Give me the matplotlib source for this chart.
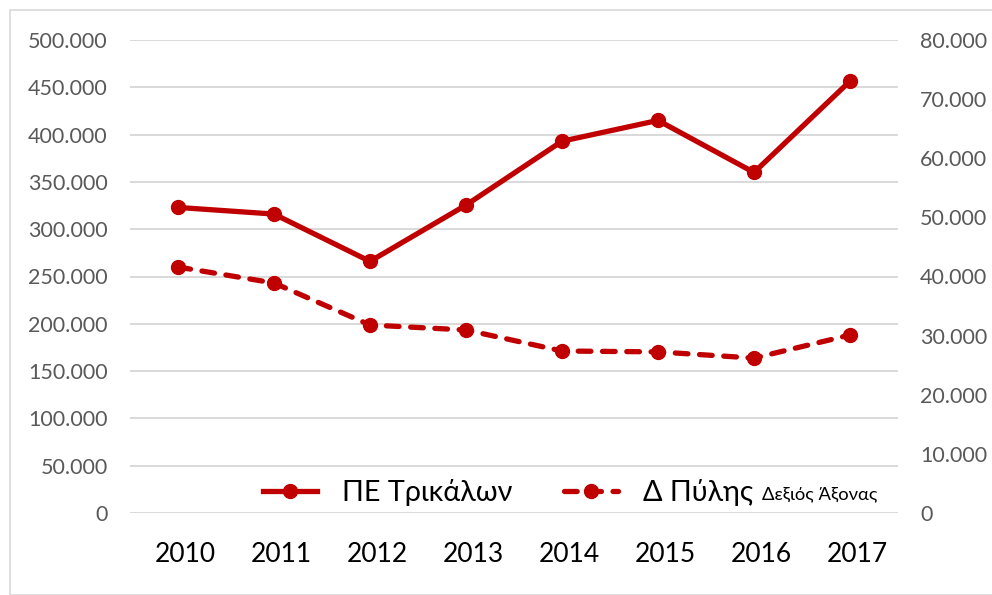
import matplotlib
matplotlib.use("Agg")
import matplotlib.pyplot as plt
import matplotlib.transforms as mtransforms
from matplotlib.lines import Line2D
from matplotlib.patches import Rectangle
from matplotlib.ticker import FuncFormatter, MultipleLocator

plt.rcParams["font.family"] = ["Lato", "Open Sans", "DejaVu Sans"]

years = ["2010", "2011", "2012", "2013", "2014", "2015", "2016", "2017"]
pe_trikalon = [323000, 316000, 266000, 325500, 393000, 415000, 360000, 456500]
d_pylis = [41600, 38900, 31800, 30950, 27400, 27250, 26200, 30100]

red = "#C00000"
grid_col = "#D9D9D9"
label_col = "#595959"


def thousands(v, pos):
    return f"{int(round(v)):,}".replace(",", ".")


fig = plt.figure(figsize=(9.92, 5.95), dpi=100)
W, H = 992, 595

# light outer frame of the chart area
fig.patches.append(Rectangle((10 / W, 0), 1.0, 1 - 10 / H, transform=fig.transFigure,
                             fill=False, edgecolor="#D9D9D9", linewidth=1.2))

ax = fig.add_axes([130 / W, 82 / H, 768 / W, 473 / H])
ax2 = ax.twinx()

dash = (0, (2.4, 2.2))
x = range(len(years))
ax.plot(x, pe_trikalon, color=red, linewidth=3.8, marker="o", markersize=10,
        solid_capstyle="round", zorder=3)
ax2.plot(x, d_pylis, color=red, linewidth=3.8, marker="o", markersize=10,
         linestyle=dash, dash_capstyle="round", zorder=3)

ax.set_xlim(-0.5, len(years) - 0.5)
ax.set_ylim(0, 500000)
ax2.set_ylim(0, 80000)
ax.yaxis.set_major_locator(MultipleLocator(50000))
ax2.yaxis.set_major_locator(MultipleLocator(10000))
ax.yaxis.set_major_formatter(FuncFormatter(thousands))
ax2.yaxis.set_major_formatter(FuncFormatter(thousands))

ax.set_xticks(list(x))
ax.set_xticklabels(years)
ax.grid(axis="y", color=grid_col, linewidth=1.4)
ax.set_axisbelow(True)

for a in (ax, ax2):
    for s in a.spines.values():
        s.set_visible(False)

ax.tick_params(axis="x", length=0, pad=21, labelsize=19, labelcolor="black")
ax.tick_params(axis="y", length=0, pad=16, labelsize=15.5, labelcolor=label_col)
ax2.tick_params(axis="y", length=0, pad=16, labelsize=15.5, labelcolor=label_col)

# year labels sit slightly right of their category centre
shift = mtransforms.ScaledTranslation(7 / 100, 0, fig.dpi_scale_trans)
for lbl in ax.get_xticklabels():
    lbl.set_transform(lbl.get_transform() + shift)

handles = [
    Line2D([], [], color=red, linewidth=3.8, marker="o", markersize=10),
    Line2D([], [], color=red, linewidth=3.8, marker="o", markersize=10,
           linestyle=dash, dash_capstyle="round"),
]
leg = ax.legend(handles, ["ΠΕ Τρικάλων", "Δ Πύλης"], ncol=2, frameon=False,
                loc="center left", bbox_to_anchor=(263 / W, 1 - 493 / H),
                bbox_transform=fig.transFigure, fontsize=20.7, handlelength=1.88,
                handletextpad=0.87, columnspacing=1.8, borderpad=0, borderaxespad=0)

fig.canvas.draw()
bb = leg.get_texts()[1].get_window_extent()
fig.text((bb.x1 + 9) / W, (bb.y0 + 4) / H, "Δεξιός Άξονας", fontsize=13.2,
         color="black", ha="left", va="bottom")

fig.savefig("out.png", dpi=100)
